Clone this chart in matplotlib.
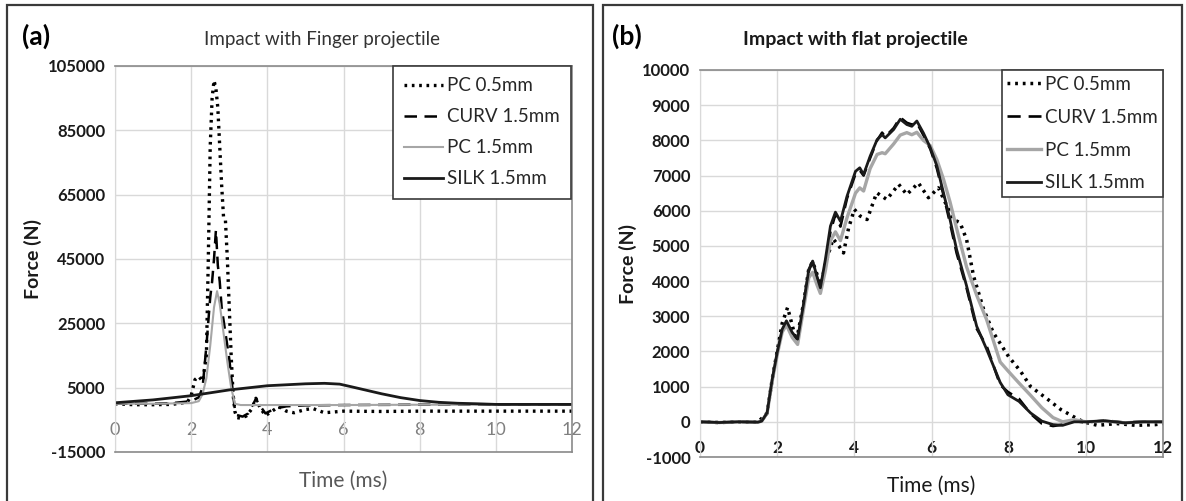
import matplotlib
matplotlib.use('Agg')
import matplotlib.pyplot as plt
from matplotlib.patches import Rectangle

plt.rcParams['font.family'] = ['Lato', 'DejaVu Sans']
plt.rcParams['axes.unicode_minus'] = False

# ---- (a) finger projectile ----
fin_pc05_t = [0, 0.5, 1.0, 1.5, 1.9, 2.0, 2.1, 2.2, 2.3, 2.4, 2.45, 2.5, 2.55, 2.6, 2.65, 2.7, 2.75, 2.8,
              2.85, 2.9, 2.95, 3.0, 3.05, 3.1, 3.15, 3.2, 3.3, 3.45, 3.6, 3.7, 3.8, 3.95, 4.1, 4.3, 4.5,
              4.7, 5.0, 5.2, 5.5, 6, 7, 8, 9, 10, 11, 12]
fin_pc05_f = [0, -300, -300, -200, 500, 2500, 7500, 8500, 7000, 15000, 45000, 80000, 95000, 100500, 98000,
              92000, 80000, 68000, 58000, 57000, 45000, 30000, 15000, 3000, -2500, -4300, -4500, -3800,
              -1500, 1700, -1000, -3700, -2500, -900, -2300, -2800, -1800, -1500, -2800, -2300, -2400,
              -2300, -2300, -2300, -2300, -2300]

fin_curv_t = [0, 1, 1.5, 2.0, 2.2, 2.3, 2.4, 2.5, 2.55, 2.6, 2.65, 2.7, 2.75, 2.8, 2.9, 3.0, 3.1, 3.15,
              3.2, 3.35, 3.5, 3.7, 3.8, 3.95, 4.2, 4.5, 5, 6, 8, 10, 12]
fin_curv_f = [0, 0, 200, 800, 2000, 5000, 18000, 33000, 38000, 45000, 54000, 43000, 38000, 30000, 22000,
              14000, 3000, -2000, -3500, -4000, -3000, 1500, -500, -3000, -1500, -800, -500, -400, -300,
              -300, -300]

fin_pc15_t = [0, 1, 2, 2.2, 2.3, 2.4, 2.5, 2.6, 2.68, 2.75, 2.85, 2.95, 3.05, 3.15, 3.3, 4, 6, 8, 10, 12]
fin_pc15_f = [0, 0, 200, 800, 3000, 8000, 18000, 30000, 35000, 31000, 22000, 13000, 5000, 0, -400, -400,
              -400, -300, -300, -300]

fin_silk_t = [0, 1, 2, 3, 4, 5, 5.5, 5.9, 6.2, 6.6, 7, 7.5, 8, 8.5, 9, 9.5, 10, 11, 12]
fin_silk_f = [300, 1200, 2500, 4300, 5600, 6200, 6350, 6100, 5300, 4200, 3100, 1900, 1000, 450, 150, 0,
              -200, -200, -200]

# ---- (b) flat projectile ----
flat_t = [0, 0.5, 1.0, 1.5, 1.6, 1.74, 1.87, 2.0, 2.13, 2.24, 2.39, 2.53, 2.69, 2.82, 2.92, 3.03, 3.12,
          3.25, 3.38, 3.51, 3.64, 3.81, 4.03, 4.14, 4.24, 4.41, 4.59, 4.72, 4.8, 5.02, 5.19, 5.36, 5.49,
          5.62, 5.79, 5.97, 6.14, 6.31, 6.48, 6.65, 6.91, 7.17, 7.43, 7.78, 7.98, 8.27, 8.57, 8.86, 9.15,
          9.4, 9.7, 10, 10.5, 11, 11.5, 12]
flat_silk_f = [0, -20, 0, -10, 20, 260, 1200, 1970, 2630, 2870, 2540, 2350, 3390, 4330, 4570, 4140, 3810,
               4620, 5560, 5960, 5700, 6410, 7120, 7220, 7030, 7550, 8020, 8160, 8070, 8310, 8600, 8450,
               8400, 8550, 8210, 7790, 7270, 6510, 5750, 4900, 3860, 2720, 2060, 1120, 770, 580, 250, 20,
               -80, -100, 0, 0, 30, -30, 0, 0]
flat_curv_f = [0, -20, 0, -10, 20, 240, 1180, 1950, 2600, 2800, 2500, 2320, 3350, 4300, 4550, 4100, 3780,
               4500, 5400, 5900, 5550, 6350, 7050, 7150, 7000, 7500, 8000, 8220, 8100, 8350, 8650, 8500,
               8450, 8500, 8150, 7750, 7200, 6450, 5650, 4800, 3800, 2650, 2150, 1050, 850, 650, 230, -50,
               -120, -80, 20, -20, 40, -20, 10, 0]
flat_pc15_f = [0, -20, 0, -10, 20, 250, 1150, 1900, 2550, 2750, 2400, 2200, 3250, 4100, 4250, 3900, 3650,
               4300, 5150, 5400, 5150, 5800, 6500, 6650, 6560, 7200, 7600, 7650, 7620, 7900, 8150, 8220,
               8160, 8230, 8000, 7850, 7450, 6900, 6250, 5500, 4400, 3600, 2900, 1700, 1450, 1100, 750,
               400, 120, 0, 60, 0, 20, -30, 0, 0]

flat_pc05_t = [0, 0.5, 1.0, 1.5, 1.74, 1.87, 2.0, 2.13, 2.27, 2.4, 2.5, 2.69, 2.82, 2.92, 3.03, 3.12, 3.25,
               3.45, 3.6, 3.72, 3.85, 4.0, 4.15, 4.33, 4.58, 4.84, 5.15, 5.36, 5.66, 5.92, 6.18, 6.4,
               6.57, 6.74, 6.91, 7.09, 7.35, 7.6, 8.0, 8.3, 8.57, 9.0, 9.35, 9.74, 9.94, 10.3, 10.8,
               11.3, 11.8, 12]
flat_pc05_f = [0, -20, 0, -10, 250, 1200, 2000, 2800, 3250, 2700, 2300, 3400, 4350, 4550, 4200, 3800, 4500,
               5200, 5000, 4800, 5500, 6040, 5850, 5750, 6510, 6320, 6750, 6460, 6790, 6370, 6650, 6130,
               5750, 5660, 5180, 4140, 3200, 2540, 1850, 1450, 1000, 650, 350, 110, 0, -100, -50, -100,
               -80, -50]

labels = ['PC 0.5mm', 'CURV 1.5mm', 'PC 1.5mm', 'SILK 1.5mm']

fig = plt.figure(figsize=(11.86, 5.01), dpi=100)

# outer frames around each chart
fig.patches.append(Rectangle((7 / 1186, -0.01), 586 / 1186, 1 - 5 / 501 + 0.01, transform=fig.transFigure,
                             fill=False, ec='#3a3a3a', lw=1.6))
fig.patches.append(Rectangle((603 / 1186, -0.01), 579 / 1186, 1 - 5 / 501 + 0.01, transform=fig.transFigure,
                             fill=False, ec='#3a3a3a', lw=1.6))

ax1 = fig.add_axes([115 / 1186, 1 - 452 / 501, 457 / 1186, 386 / 501])
ax2 = fig.add_axes([700 / 1186, 1 - 457 / 501, 463 / 1186, 387 / 501])


def style(ax, ylim, yticks, xcol, xweight, xsize, xpad):
    ax.set_xlim(0, 12)
    ax.set_ylim(*ylim)
    ax.set_yticks(yticks)
    ax.set_xticks(range(0, 13, 2))
    ax.grid(True, color='#d9d9d9', lw=1)
    ax.set_axisbelow(True)
    for s in ['top', 'bottom', 'right']:
        ax.spines[s].set_color('#8a8a8a')
        ax.spines[s].set_linewidth(1.2)
    ax.spines['left'].set_color('#d9d9d9')
    ax.tick_params(length=0)
    ax.tick_params(axis='y', labelsize=12, labelcolor='#1a1a1a', pad=7)
    for lab in ax.get_yticklabels():
        lab.set_fontweight('bold')
    ax.xaxis.set_ticklabels([])
    # x labels sit on the zero line (Excel style)
    loc = (0 - ylim[0]) / (ylim[1] - ylim[0])
    sec = ax.secondary_xaxis(loc)
    sec.set_xticks(range(0, 13, 2))
    sec.spines['bottom'].set_visible(False)
    sec.tick_params(length=0, pad=xpad, labelsize=xsize, labelcolor=xcol)
    for lab in sec.get_xticklabels():
        lab.set_fontweight(xweight)


style(ax1, (-15000, 105000), range(-15000, 105001, 20000), '#7f7f7f', 'normal', 13, 13)
style(ax2, (-1000, 10000), range(-1000, 10001, 1000), '#1a1a1a', 'bold', 12.5, 13)

dot = (0, (0.8, 1.4))
ax1.plot(fin_pc05_t, fin_pc05_f, color='black', lw=2.4, ls=dot, label=labels[0])
ax1.plot(fin_curv_t, fin_curv_f, color='black', lw=1.8, ls=(0, (5, 3)), label=labels[1])
ax1.plot(fin_pc15_t, fin_pc15_f, color='#a6a6a6', lw=1.5, label=labels[2])
ax1.plot(fin_silk_t, fin_silk_f, color='#1a1a1a', lw=2.0, label=labels[3])

ax2.plot(flat_pc05_t, flat_pc05_f, color='black', lw=2.5, ls=dot, label=labels[0])
ax2.plot(flat_t, flat_curv_f, color='black', lw=1.9, ls=(0, (5, 3)), label=labels[1])
ax2.plot(flat_t, flat_pc15_f, color='#a6a6a6', lw=2.4, label=labels[2])
ax2.plot(flat_t, flat_silk_f, color='#1a1a1a', lw=2.0, label=labels[3])

for ax, anchor, pad, hl, sp in [(ax1, (0.998, 1.0), 0.6, 2.1, 0.75), (ax2, (1.0, 1.0), 0.3, 1.8, 0.85)]:
    leg = ax.legend(loc='upper right', bbox_to_anchor=anchor, borderaxespad=0, fontsize=13.5,
                    frameon=True, fancybox=False, framealpha=1, edgecolor='#3a3a3a',
                    handlelength=hl, handletextpad=0.2, labelspacing=sp, borderpad=pad)
    leg.get_frame().set_linewidth(1.2)
    for t in leg.get_texts():
        t.set_color('#262626')

ax1.set_ylabel('Force (N)', fontsize=14, fontweight='bold', color='#1a1a1a', labelpad=4)
ax2.set_ylabel('Force (N)', fontsize=14, fontweight='bold', color='#1a1a1a', labelpad=4)
ax1.set_xlabel('Time (ms)', fontsize=15, color='#595959', labelpad=10)
ax2.set_xlabel('Time (ms)', fontsize=15, color='#1a1a1a', labelpad=10)

fig.text(36 / 1186, 1 - 36 / 501, '(a)', fontsize=19, fontweight='bold', ha='center', va='center')
fig.text(627 / 1186, 1 - 36 / 501, '(b)', fontsize=19, fontweight='bold', ha='center', va='center')
fig.text(322 / 1186, 1 - 39 / 501, 'Impact with Finger projectile', fontsize=13.5, color='#333333',
         ha='center', va='center')
fig.text(855 / 1186, 1 - 40 / 501, 'Impact with flat projectile', fontsize=14, fontweight='bold',
         color='#1a1a1a', ha='center', va='center')

fig.savefig('out.png', dpi=100)
